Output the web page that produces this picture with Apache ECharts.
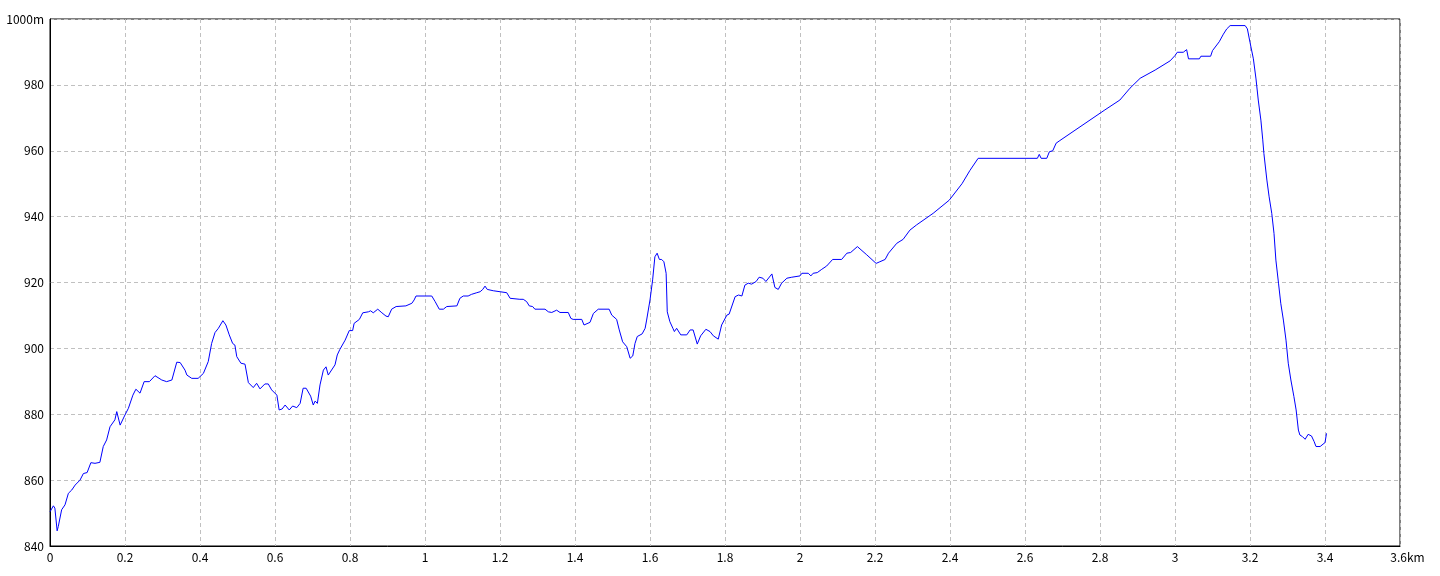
<!DOCTYPE html>
<html>
<head>
<meta charset="utf-8">
<script src="https://cdn.jsdelivr.net/npm/echarts@6/dist/echarts.min.js"></script>
<style>html,body{margin:0;padding:0;background:#fff}#c{width:1440px;height:576px}</style>
</head>
<body>
<div id="c"></div>
<script>
// distance (km)
const distance = [
0.000,0.009,0.013,0.019,0.022,0.031,0.040,0.049,0.058,0.067,0.080,0.089,0.099,0.109,0.120,0.133,0.142,0.151,0.160,0.173,
0.178,0.187,0.200,0.209,0.221,0.229,0.240,0.251,0.265,0.280,0.298,0.311,0.325,0.338,0.347,0.360,0.365,0.378,0.395,0.409,
0.422,0.431,0.440,0.449,0.461,0.469,0.478,0.487,0.493,0.498,0.509,0.520,0.529,0.542,0.551,0.560,0.573,0.582,0.591,0.605,
0.611,0.619,0.627,0.638,0.647,0.658,0.667,0.675,0.683,0.695,0.702,0.707,0.713,0.720,0.729,0.736,0.742,0.747,0.760,0.766,
0.773,0.787,0.798,0.807,0.811,0.825,0.834,0.849,0.855,0.862,0.874,0.885,0.896,0.902,0.911,0.923,0.949,0.965,0.971,0.976,
1.018,1.027,1.038,1.049,1.058,1.085,1.093,1.102,1.115,1.124,1.138,1.147,1.154,1.160,1.166,1.182,1.200,1.218,1.227,1.253,
1.262,1.271,1.278,1.287,1.293,1.320,1.329,1.338,1.351,1.360,1.382,1.389,1.395,1.418,1.424,1.440,1.449,1.462,1.491,1.498,
1.511,1.518,1.527,1.538,1.547,1.554,1.560,1.566,1.579,1.587,1.591,1.600,1.607,1.613,1.619,1.625,1.631,1.637,1.643,1.646,
1.653,1.661,1.665,1.671,1.682,1.698,1.707,1.715,1.726,1.735,1.749,1.760,1.769,1.782,1.791,1.805,1.811,1.827,1.836,1.845,
1.853,1.862,1.871,1.883,1.891,1.901,1.909,1.925,1.929,1.933,1.942,1.951,1.965,1.978,2.000,2.005,2.022,2.029,2.035,2.046,
2.058,2.071,2.087,2.111,2.125,2.135,2.153,2.178,2.203,2.213,2.227,2.236,2.258,2.275,2.293,2.311,2.355,2.398,2.432,2.453,
2.475,2.633,2.638,2.643,2.658,2.665,2.674,2.683,2.693,2.813,2.853,2.880,2.907,2.947,2.987,3.000,3.006,3.022,3.031,3.036,
3.065,3.069,3.095,3.100,3.118,3.129,3.138,3.147,3.187,3.193,3.200,3.209,3.216,3.222,3.229,3.234,3.237,3.245,3.251,3.258,
3.264,3.269,3.276,3.282,3.289,3.296,3.302,3.309,3.317,3.323,3.329,3.333,3.340,3.347,3.355,3.364,3.371,3.376,3.387,3.400,
3.404
];
// elevation (m)
const elevation = [
850.4,852.2,851.5,844.6,845.9,851.0,852.5,856.0,857.0,858.5,860.0,862.0,862.3,865.3,865.1,865.4,870.2,872.2,876.2,878.3,
880.8,876.7,879.8,881.8,885.8,887.6,886.4,889.9,889.9,891.7,890.4,889.9,890.4,895.8,895.7,893.4,891.9,890.9,890.9,892.4,
896.0,901.5,904.8,906.1,908.4,907.1,904.1,901.5,901.0,897.5,895.5,895.2,889.6,888.1,889.4,887.7,889.2,889.2,887.4,885.8,
881.3,881.6,882.8,881.3,882.5,882.0,883.3,887.9,887.9,885.5,882.8,884.0,883.3,888.9,893.4,894.4,891.9,891.9,895.0,898.0,
899.7,902.5,905.4,905.4,907.6,908.8,910.8,911.1,911.4,910.8,911.9,910.8,909.8,909.6,911.9,912.7,912.9,913.7,914.7,915.9,
915.9,914.2,911.9,911.9,912.7,912.9,915.2,915.9,915.9,916.4,916.9,917.2,917.9,918.9,917.9,917.5,917.2,916.9,915.2,914.9,
914.9,914.2,912.9,912.7,911.9,911.9,911.1,910.9,911.6,910.9,910.9,909.1,908.8,908.8,907.1,907.9,910.6,911.9,911.9,910.1,
908.8,905.6,902.0,900.5,897.0,897.7,901.5,903.6,904.4,906.1,908.6,914.7,920.8,927.8,928.9,927.0,927.0,926.3,922.8,911.1,
908.1,906.1,905.1,906.1,904.1,904.1,905.6,905.6,901.3,903.8,905.8,905.1,903.8,902.8,907.1,910.1,910.4,915.7,916.2,915.9,
919.2,919.8,919.5,920.3,921.6,921.3,920.3,922.6,922.0,918.5,917.9,919.8,921.3,921.6,922.0,922.8,922.8,922.0,922.8,923.0,
924.0,925.0,927.0,927.0,928.9,929.1,930.9,928.4,925.8,926.3,927.0,928.9,931.9,933.1,935.9,937.5,941.0,945.0,950.0,954.0,
957.7,957.7,958.9,957.7,957.7,959.7,960.0,962.3,963.1,972.4,975.4,979.0,982.0,984.5,987.3,988.9,989.9,989.9,990.7,987.9,
987.9,988.7,988.7,990.4,993.1,995.4,997.0,998.0,998.0,997.0,992.9,987.9,981.8,975.4,969.3,963.3,959.2,951.1,946.0,941.0,
934.9,926.8,919.8,913.7,908.6,902.5,895.5,890.4,885.4,881.3,875.2,873.7,873.2,872.4,873.9,873.4,871.7,870.2,870.2,871.4,
874.2
];
const xUnit = 'km';
const yUnit = 'm';

const chart = echarts.init(document.getElementById('c'), null, {renderer: 'canvas'});
const pts = distance.map((d, i) => [d, elevation[i]]);
const font = '"Noto Sans CJK JP", "Liberation Sans", sans-serif';
chart.setOption({
  animation: false,
  backgroundColor: '#fff',
  grid: {left: 50, right: 40, top: 19, bottom: 30, show: true, borderColor: '#000', borderWidth: 1, backgroundColor: 'transparent'},
  xAxis: {
    type: 'value', min: 0, max: 3.6, interval: 0.2,
    axisLine: {show: true, onZero: false, lineStyle: {color: '#000', width: 1}},
    axisTick: {show: false},
    splitLine: {show: true, lineStyle: {color: '#c0c0c0', type: [4, 3], width: 1}},
    axisLabel: {
      color: '#000', fontSize: 12, fontFamily: font, margin: 5,
      formatter: v => {
        const s = String(Math.round(v * 10) / 10);
        return Math.abs(v - 3.6) < 1e-6 ? '{p|}' + s + xUnit : s;
      },
      rich: {p: {width: 15}}
    }
  },
  yAxis: {
    type: 'value', min: 840, max: 1000, interval: 20,
    axisLine: {show: true, lineStyle: {color: '#000', width: 1}},
    axisTick: {show: false},
    splitLine: {show: true, lineStyle: {color: '#c0c0c0', type: [4, 3], width: 1}},
    axisLabel: {
      color: '#000', fontSize: 12, fontFamily: font, margin: 6,
      formatter: v => v === 1000 ? v + yUnit : String(v)
    }
  },
  series: [{
    type: 'line', data: pts, showSymbol: false, symbol: 'none',
    lineStyle: {color: '#0000ff', width: 1}, silent: true
  }]
});
</script>
</body>
</html>
